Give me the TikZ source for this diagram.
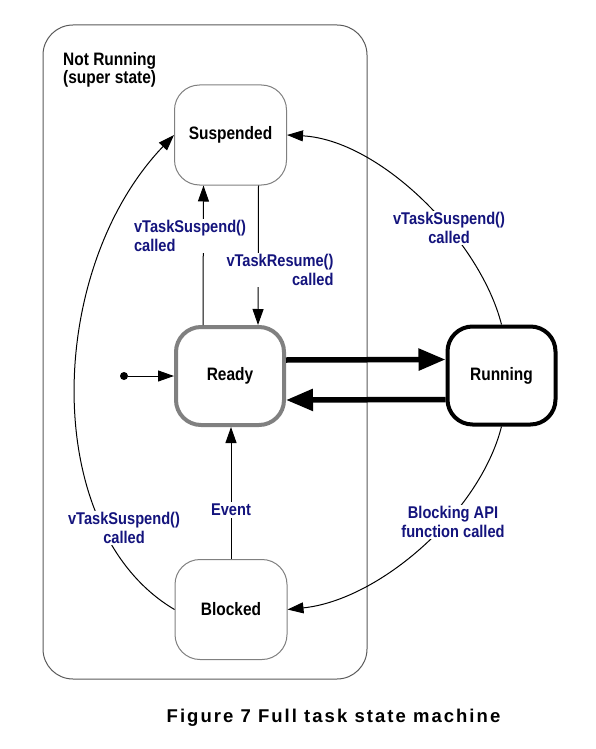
\documentclass[tikz,border=0pt]{standalone}
\usepackage{fontspec}
\setmainfont{Liberation Sans}
\newfontfamily\statefont[FakeStretch=0.86]{Liberation Sans}
\newfontfamily\capfont[LetterSpace=11]{Liberation Sans}
\usetikzlibrary{arrows.meta,shapes}
\definecolor{lblblue}{RGB}{20,20,125}
\definecolor{boxgray}{RGB}{128,128,128}
\newcommand{\thinw}{1pt}
\newcommand{\thickw}{5.5pt}

\begin{document}
\begin{tikzpicture}[x=1pt,y=-1pt]
    \useasboundingbox (0,0) rectangle (595,749);
    %\draw[help lines] (0,0) grid (595,749);
    \tikzset{
        superbox/.style = {draw=black!65, line width=\thinw, rounded corners=30pt,
                           minimum width=324pt, minimum height=654pt},
        state/.style    = {draw=boxgray, line width=\thinw, fill=white, rounded corners=25pt,
                           minimum width=112pt, minimum height=100pt,
                           font=\statefont\bfseries\fontsize{18}{20}\selectfont},
        boldstate/.style = {state, line width=4pt, minimum width=108pt, minimum height=98pt},
        initdot/.style  = {circle, fill=black, inner sep=0pt, minimum size=8pt},
        arr/.style      = {-{Triangle[length=16pt,width=11pt]}, line width=\thinw},
        bigarr/.style   = {-{Triangle[length=27pt,width=21pt]}, line width=\thickw},
        lbl/.style      = {fill=white, text=lblblue, inner sep=2pt,
                           font=\statefont\bfseries\fontsize{17}{18.5}\selectfont}
    }
    \node[superbox] (nr) at (205,352) {};
    \node[anchor=north west, inner sep=0pt, align=left,
          font=\statefont\bfseries\fontsize{18}{18.5}\selectfont] (nrtitle) at (63,52) {Not Running\\(super state)};

    \node[state] (susp) at (230.5,135) {Suspended};
    \node[boldstate] (rdy) at (230,376) {Ready};
    \node[boldstate, draw=black] (run) at (501.5,375.5) {Running};
    \node[state] (blk) at (231,609.5) {Blocked};
    \node[initdot] (init) at (124,376) {};

    \draw[arr] (init) -- (rdy);
    \draw[bigarr] ([yshift=16pt]rdy.east) -- ([yshift=16pt]run.west);
    \draw[bigarr] ([yshift=-24pt]run.west) -- ([yshift=-24pt]rdy.east);

    \draw[arr] ([xshift=-27pt]rdy.north) -- ([xshift=-27pt]susp.south);
    \draw[arr] ([xshift=28pt]susp.south) -- ([xshift=28pt]rdy.north);
    \draw[arr] (blk.north) -- (blk.north |- rdy.south);

    \draw[arr] (blk.west) .. controls (40,530) and (45,270) .. (susp.west);
    \draw[arr] (run.north) .. controls (480,240) and (380,140) .. (susp.east);
    \draw[arr] (run.south) .. controls (480,512) and (380,600) .. (blk.east);

    \node[lbl, align=left] (lsusp) at (190,236) {vTaskSuspend()\\called};
    \node[lbl, align=right] (lres) at (280,270) {vTaskResume()\\called};
    \node[lbl] (lev) at (231,510) {Event};
    \node[lbl, align=center] (lsusprun) at (449,228) {vTaskSuspend()\\called};
    \node[lbl, align=center] (lsuspblk) at (124,528) {vTaskSuspend()\\called};
    \node[lbl, align=center] (lblock) at (453,522) {Blocking API\\function called};

    \node[anchor=base, font=\capfont\bfseries\fontsize{18.5}{20}\selectfont] (cap) at (333.5,722) {Figure 7 Full task state machine};
\end{tikzpicture}
\end{document}
